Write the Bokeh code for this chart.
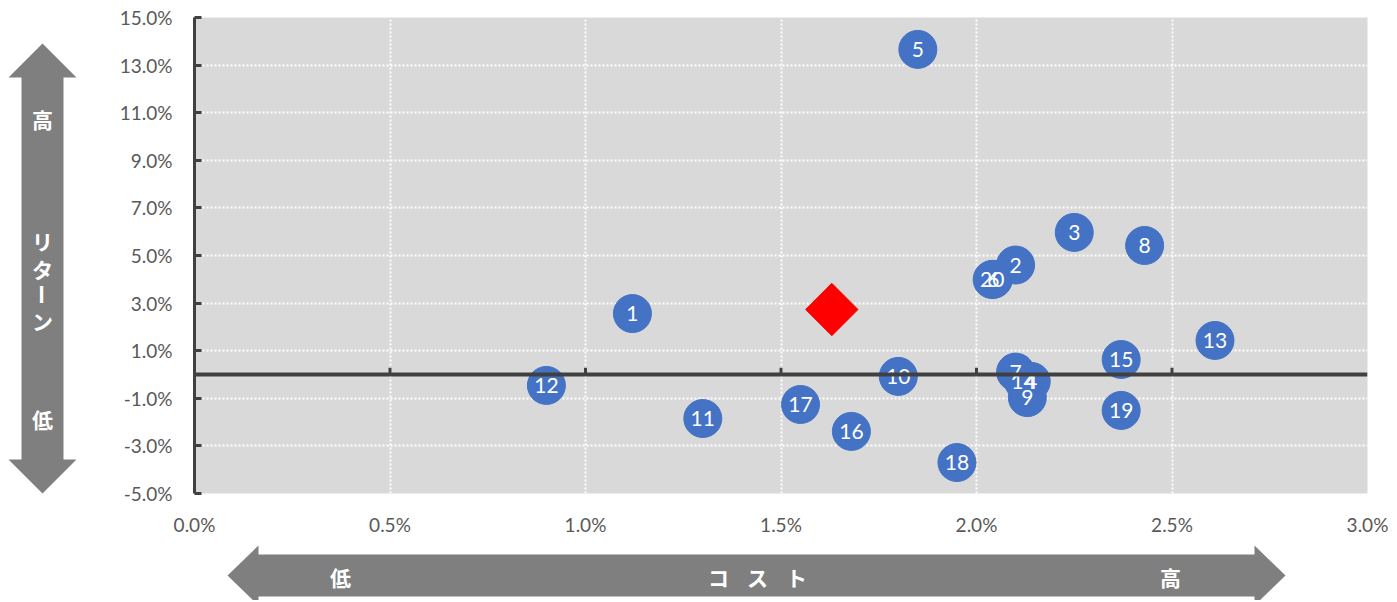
import numpy as np
from bokeh.plotting import figure
from bokeh.layouts import row, column
from bokeh.models import (ColumnDataSource, Span, FixedTicker,
                          PrintfTickFormatter, Range1d)
from bokeh.core.properties import value
from bokeh.embed import file_html
from bokeh.resources import INLINE

# ---- data (cost %, return %) ----
fund_labels = [str(i) for i in range(1, 21)]
cost = [1.12, 2.10, 2.25, 2.14, 1.85, 2.043, 2.10, 2.43, 2.13, 1.80,
        1.30, 0.90, 2.61, 2.12, 2.37, 1.68, 1.55, 1.95, 2.37, 2.04]
ret = [2.56, 4.60, 5.97, -0.29, 13.66, 4.00, 0.10, 5.42, -0.97, -0.08,
       -1.85, -0.46, 1.43, -0.29, 0.63, -2.39, -1.26, -3.70, -1.51, 3.99]
ref_cost = [1.63]
ref_ret = [2.73]

x_ticks = [0.0, 0.5, 1.0, 1.5, 2.0, 2.5, 3.0]
y_ticks = [-5.0, -3.0, -1.0, 1.0, 3.0, 5.0, 7.0, 9.0, 11.0, 13.0, 15.0]

return_axis_text = ["高", "リ", "タ", "ー", "ン", "低"]
cost_axis_text = ["低", "コ", "ス", "ト", "高"]

FONT = "Lato"
JP = "Noto Sans CJK JP"
GRAY = "#7F7F7F"

TOTAL_W, TOTAL_H = 1397, 600
LEFT_W = 90
MAIN_H = 540
FRAME_L, FRAME_R = 194, 1367

# ---- main scatter ----
p = figure(width=TOTAL_W - LEFT_W, height=MAIN_H, output_backend="svg",
           toolbar_location=None,
           x_range=Range1d(0, 3.0), y_range=Range1d(-5.0, 15.0),
           min_border_left=FRAME_L - LEFT_W, min_border_right=TOTAL_W - FRAME_R,
           min_border_top=17, min_border_bottom=MAIN_H - 493)
p.outline_line_color = None
p.background_fill_color = "#D9D9D9"
p.border_fill_color = "white"

for g in (p.xgrid, p.ygrid):
    g.grid_line_color = "white"
    g.grid_line_width = 2
    g.grid_line_dash = "2 2"
p.xgrid.ticker = FixedTicker(ticks=x_ticks)
p.ygrid.ticker = FixedTicker(ticks=y_ticks)

p.xaxis.ticker = FixedTicker(ticks=x_ticks)
p.yaxis.ticker = FixedTicker(ticks=y_ticks)
p.xaxis.formatter = PrintfTickFormatter(format="%.1f%%")
p.yaxis.formatter = PrintfTickFormatter(format="%.1f%%")
for ax in (p.xaxis, p.yaxis):
    ax.major_label_text_font = FONT
    ax.major_label_text_font_size = "19px"
    ax.major_label_text_color = "#595959"
    ax.minor_tick_line_color = None
p.xaxis.axis_line_color = None
p.xaxis.major_tick_line_color = None
p.xaxis.major_tick_in = 0
p.xaxis.major_tick_out = 0
p.xaxis.major_label_standoff = 19
p.yaxis.axis_line_color = "#404040"
p.yaxis.axis_line_width = 3
p.yaxis.major_tick_line_color = "#404040"
p.yaxis.major_tick_line_width = 3
p.yaxis.major_tick_in = 7
p.yaxis.major_tick_out = 0
p.yaxis.major_label_standoff = 22

p.add_layout(Span(location=0, dimension="width", line_color="#404040", line_width=4))
zt = x_ticks[1:-1]
p.segment(x0=zt, y0=[0] * len(zt), x1=zt, y1=[0.28] * len(zt),
          line_color="#404040", line_width=3)

src = ColumnDataSource(dict(x=cost, y=ret, t=fund_labels))
p.scatter("x", "y", source=src, size=38, fill_color="#4472C4",
          line_color="#4472C4")
p.text("x", "y", text="t", source=src, text_color="white",
       text_font=value(FONT), text_font_size="21px",
       text_align="center", text_baseline="middle")
p.scatter(ref_cost, ref_ret, marker="square", angle=np.pi / 4, size=37,
          fill_color="#FF0000", line_color="#FF0000")


def deco(width, height, x0, x1, y0, y1, bl=0, br=0):
    """figure whose data coords equal page pixels (y downward)"""
    f = figure(width=width, height=height, output_backend="svg",
               toolbar_location=None,
               x_range=Range1d(x0, x1), y_range=Range1d(y1, y0),
               min_border=0, min_border_left=bl, min_border_right=br,
               min_border_top=0, min_border_bottom=0)
    f.axis.visible = False
    f.grid.visible = False
    f.outline_line_color = None
    f.background_fill_color = "white"
    return f


# ---- left: return arrow ----
lf = deco(LEFT_W, TOTAL_H, 0, LEFT_W, 0, TOTAL_H)
vx = [42, 76, 63, 63, 76, 42, 8, 21, 21, 8]
vy = [43, 77, 77, 459, 459, 493, 459, 459, 77, 77]
lf.patch(vx, vy, fill_color=GRAY, line_color=None)
ry = [118, 240, 268, 294, 320, 418]
for t, yy in zip(return_axis_text, ry):
    lf.text([42], [yy], text=[t], text_color="white", text_font=value(JP),
            text_font_size="21px", text_font_style="bold",
            text_align="center", text_baseline="middle",
            angle=(-np.pi / 2 if t == "ー" else 0.0))

# ---- bottom: cost arrow (frame aligned with the main frame) ----
bf = deco(TOTAL_W - LEFT_W, TOTAL_H - MAIN_H, FRAME_L, FRAME_R, MAIN_H, TOTAL_H,
          bl=FRAME_L - LEFT_W, br=TOTAL_W - FRAME_R)
bf.border_fill_color = "white"
hx = [227, 258, 258, 1254, 1254, 1285, 1254, 1254, 258, 258]
hy = [575, 545, 554, 554, 545, 575, 605, 596, 596, 605]
bf.patch(hx, hy, fill_color=GRAY, line_color=None)
cx = [340, 718, 757, 796, 1170]
bf.text(cx, [576] * len(cx), text=cost_axis_text, text_color="white",
        text_font=value(JP), text_font_size="21px", text_font_style="bold",
        text_align="center", text_baseline="middle")

layout = row(lf, column(p, bf, spacing=0), spacing=0)
open("out.html", "w").write(file_html(layout, INLINE))
